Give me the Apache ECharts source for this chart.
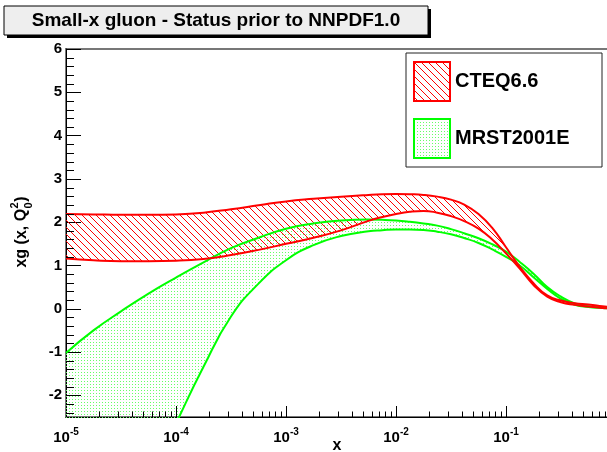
<!DOCTYPE html>
<html><head><meta charset="utf-8">
<script src="https://cdn.jsdelivr.net/npm/echarts@6/dist/echarts.min.js"></script>
<style>html,body{margin:0;padding:0;background:#fff}#c{width:607px;height:452px}</style>
</head><body><div id="c"></div>
<script>
// log10(x) sample positions
const log10x = [-5,-4.75,-4.5,-4.25,-4,-3.75,-3.5,-3.25,-3,-2.75,-2.5,-2.25,-2.125,-2,-1.875,-1.75,-1.625,-1.5,-1.375,-1.25,-1.125,-1,-0.875,-0.75,-0.625,-0.5,-0.375,-0.25,-0.125,0];
const cteqUpper = [2.19,2.18,2.17,2.17,2.18,2.22,2.30,2.39,2.48,2.54,2.59,2.63,2.645,2.65,2.645,2.63,2.59,2.52,2.40,2.19,1.87,1.42,0.97,0.59,0.31,0.19,0.13,0.10,0.06,0.02];
const cteqLower = [1.16,1.12,1.10,1.10,1.11,1.15,1.24,1.36,1.50,1.64,1.81,2.03,2.12,2.19,2.24,2.26,2.22,2.14,2.02,1.85,1.60,1.28,0.93,0.55,0.28,0.15,0.09,0.05,0.02,0.00];
const mrstUpper = [-1.02,-0.50,-0.06,0.35,0.72,1.07,1.40,1.64,1.85,1.97,2.04,2.06,2.055,2.04,2.01,1.97,1.92,1.84,1.74,1.63,1.49,1.32,1.08,0.81,0.50,0.28,0.12,0.06,0.04,0.02];
const mrstLower = [-9.6,-7.5,-5.6,-4.0,-2.65,-1.34,-0.18,0.58,1.12,1.47,1.68,1.79,1.815,1.83,1.83,1.82,1.78,1.72,1.63,1.52,1.37,1.20,1.00,0.73,0.46,0.23,0.09,0.04,0.02,0.00];
const seriesNames = ['CTEQ6.6', 'MRST2001E'];
const titleText = 'Small-x gluon - Status prior to NNPDF1.0';
const xAxisTitle = 'x';

const FONT = '"Liberation Sans", Arial, Helvetica, sans-serif';
const X_MIN = -5, X_MAX = 0, Y_MIN = -2.5, Y_MAX = 6;

// minor tick positions (log decades 2..9, and 0.2 steps on y)
const xMinor = [];
for (let n = -5; n < 0; n++) for (let k = 2; k <= 9; k++) xMinor.push(n + Math.log10(k));
const yMinor = [];
for (let i = -12; i <= 29; i++) { if (i % 5 !== 0) yMinor.push(+(i * 0.2).toFixed(2)); }

function hatchPattern() {
  const s = 7, c = document.createElement('canvas');
  c.width = s; c.height = s;
  const g = c.getContext('2d');
  g.strokeStyle = '#ff0000'; g.lineWidth = 1;
  g.beginPath();
  for (const k of [-1, 0, 1]) { g.moveTo(k * s, 0); g.lineTo(k * s + s, s); }
  g.stroke();
  return { image: c, repeat: 'repeat' };
}
function dotPattern() {
  const c = document.createElement('canvas');
  c.width = 3; c.height = 3;
  const g = c.getContext('2d');
  g.fillStyle = '#66ff66';
  g.fillRect(0, 0, 1, 1);
  return { image: c, repeat: 'repeat' };
}
function measure(text, font) {
  const g = document.createElement('canvas').getContext('2d');
  g.font = font; return g.measureText(text).width;
}

// rows are [y, log10x] so that the stacked (first numeric) dimension is y
const rowsOf = (ys) => log10x.map((x, i) => [ys[i], x]);
const diffRows = (a, b) => log10x.map((x, i) => [+(a[i] - b[i]).toFixed(3), x]);

const hatch = hatchPattern(), dots = dotPattern();

const legendFont = 'bold 20px ' + FONT;
const legTextW = Math.max(...seriesNames.map(n => measure(n, legendFont)));
const legRightPad = Math.max(4, 197 - 7 - 36 - 5 - legTextW - 2);

const chart = echarts.init(document.getElementById('c'), null, { renderer: 'canvas' });

// y-axis title with stacked sub/superscript
const yTitleMain = 'xg (x, Q';
const yMainFont = 'bold 16px ' + FONT, ySmallFont = 'bold 11px ' + FONT;
const wMain = measure(yTitleMain, yMainFont);
const wSmall = measure('2', ySmallFont);
const wParen = measure(')', yMainFont);
const wTotal = wMain + wSmall + 1 + wParen;
const x0 = -wTotal / 2;

const bandLine = (name, rows, stack, color, area) => {
  const s = {
    name, type: 'line', data: rows, dimensions: ['y', 'x'], encode: { x: 1, y: 0 },
    stack, stackStrategy: 'all', smooth: 0.5, symbol: 'none', silent: true,
    lineStyle: { color, width: 2 }, itemStyle: { color }
  };
  if (area) s.areaStyle = { color: area, opacity: 1 };
  return s;
};

chart.setOption({
  animation: false,
  backgroundColor: '#fff',
  grid: { left: 66, top: 49, width: 550, height: 368, outerBoundsMode: 'none', containLabel: false, show: true, borderColor: '#777', borderWidth: 2, backgroundColor: 'transparent' },
  legend: {
    orient: 'vertical', left: 406, top: 53,
    itemWidth: 36, itemHeight: 39, itemGap: 16,
    padding: [8, legRightPad, 8, 7],
    backgroundColor: '#fff', borderColor: '#222', borderWidth: 1,
    selectedMode: false,
    textStyle: { fontFamily: FONT, fontWeight: 'bold', fontSize: 20, color: '#000' },
    data: [
      { name: seriesNames[0], icon: 'rect', itemStyle: { color: hatch, borderColor: '#ff0000', borderWidth: 2 } },
      { name: seriesNames[1], icon: 'rect', itemStyle: { color: dots, borderColor: '#00ff00', borderWidth: 2 } }
    ]
  },
  xAxis: {
    type: 'value', min: X_MIN, max: X_MAX, interval: 1,
    axisLine: { show: true, onZero: false, lineStyle: { color: '#000', width: 1 } },
    axisTick: { show: true, inside: true, length: 11, lineStyle: { color: '#000' } },
    splitLine: { show: false },
    axisLabel: {
      margin: 10,
      formatter: v => (v === X_MAX ? '' : '{b|10}{s|' + v + '}'),
      rich: {
        b: { fontFamily: FONT, fontWeight: 'bold', fontSize: 15, color: '#000', verticalAlign: 'bottom' },
        s: { fontFamily: FONT, fontWeight: 'bold', fontSize: 10, color: '#000', verticalAlign: 'bottom', padding: [0, 0, 8, 0] }
      }
    }
  },
  yAxis: {
    type: 'value', min: Y_MIN, max: Y_MAX, splitNumber: 8,
    axisLine: { show: true, onZero: false, lineStyle: { color: '#000', width: 1 } },
    axisTick: { show: true, inside: true, length: 15, lineStyle: { color: '#000' } },
    splitLine: { show: false },
    axisLabel: {
      margin: 4, fontFamily: FONT, fontWeight: 'bold', fontSize: 15, color: '#000',
      formatter: v => (Number.isInteger(v) ? String(v) : '')
    }
  },
  graphic: [
    { type: 'rect', shape: { x: 7, y: 9, width: 424, height: 29 }, style: { fill: '#000' }, silent: true },
    { type: 'rect', shape: { x: 4, y: 6, width: 424, height: 29 }, style: { fill: '#eeeeee', stroke: '#000', lineWidth: 1 }, silent: true },
    { type: 'text', x: 216, y: 21, style: { text: titleText, font: 'bold 19px ' + FONT, fill: '#000', textAlign: 'center', textVerticalAlign: 'middle', verticalAlign: 'middle' }, silent: true },
    { type: 'text', x: 337, y: 446, style: { text: xAxisTitle, font: 'bold 16px ' + FONT, fill: '#000', textAlign: 'center', textVerticalAlign: 'middle', verticalAlign: 'middle' }, silent: true },
    {
      type: 'group', x: 22, y: 232, rotation: Math.PI / 2, silent: true,
      children: [
        { type: 'text', x: x0, y: 0, style: { text: yTitleMain, font: yMainFont, fill: '#000', textAlign: 'left', textVerticalAlign: 'middle', verticalAlign: 'middle' } },
        { type: 'text', x: x0 + wMain + 0.5, y: -7, style: { text: '2', font: ySmallFont, fill: '#000', textAlign: 'left', textVerticalAlign: 'middle', verticalAlign: 'middle' } },
        { type: 'text', x: x0 + wMain + 0.5, y: 7, style: { text: '0', font: ySmallFont, fill: '#000', textAlign: 'left', textVerticalAlign: 'middle', verticalAlign: 'middle' } },
        { type: 'text', x: x0 + wMain + wSmall + 1, y: 0, style: { text: ')', font: yMainFont, fill: '#000', textAlign: 'left', textVerticalAlign: 'middle', verticalAlign: 'middle' } }
      ]
    }
  ],
  series: [
    bandLine('MRST2001E lower', rowsOf(mrstLower), 'mrst', '#00ff00', null),
    bandLine(seriesNames[1], diffRows(mrstUpper, mrstLower), 'mrst', '#00ff00', dots),
    bandLine('CTEQ6.6 lower', rowsOf(cteqLower), 'cteq', '#ff0000', null),
    bandLine(seriesNames[0], diffRows(cteqUpper, cteqLower), 'cteq', '#ff0000', hatch),
    { name: 'xMinorTicks', type: 'custom', silent: true, data: xMinor.map(v => [v, Y_MIN]), encode: { x: 0, y: 1 }, z: 5,
      renderItem: (p, api) => {
        const c = api.coord([api.value(0), Y_MIN]);
        const x = Math.round(c[0]) + 0.5;
        return { type: 'line', shape: { x1: x, y1: c[1], x2: x, y2: c[1] - 5.5 }, style: { stroke: '#000', lineWidth: 1 } };
      } },
    { name: 'yMinorTicks', type: 'custom', silent: true, data: yMinor.map(v => [X_MIN, v]), encode: { x: 0, y: 1 }, z: 5,
      renderItem: (p, api) => {
        const c = api.coord([X_MIN, api.value(1)]);
        const y = Math.round(c[1]) + 0.5;
        return { type: 'line', shape: { x1: c[0], y1: y, x2: c[0] + 8, y2: y }, style: { stroke: '#000', lineWidth: 1 } };
      } }
  ]
});
</script>
</body></html>
